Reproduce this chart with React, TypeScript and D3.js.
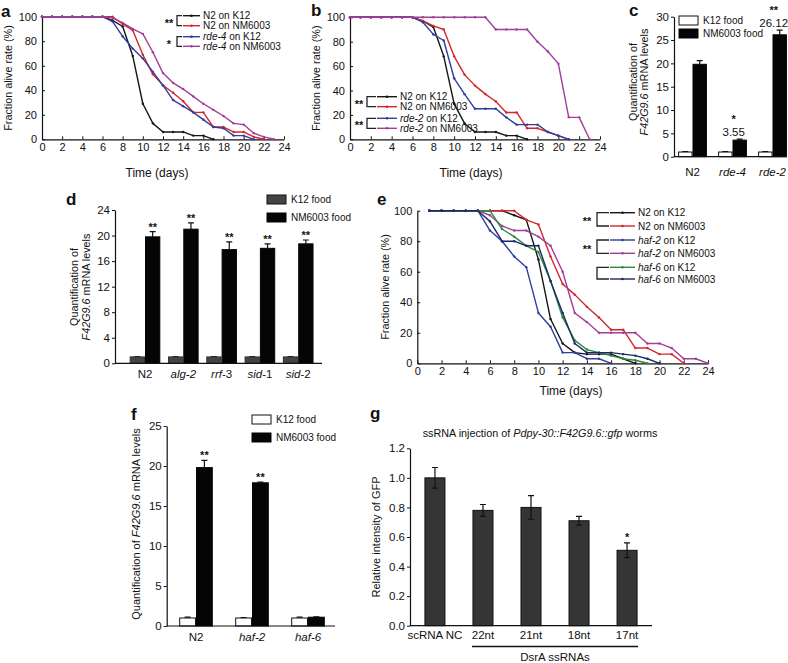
import * as React from 'react';
import { useEffect, useRef } from 'react';
import * as d3 from 'd3';

const FONT = '"Liberation Sans", Arial, Helvetica, sans-serif';

// ---- survival curves: one value per day ----
// panels a and b start at day 0, panel e at day 1
const aN2K12 = [100, 100, 100, 100, 100, 100, 100, 97, 92, 68, 29, 13, 6, 6, 6, 3, 3, 0];
const aN2NM6003 = [100, 100, 100, 100, 100, 100, 100, 100, 94, 89, 69, 53, 44, 38, 31, 22, 22, 10, 10, 6, 6, 2, 0];
const aRde4K12 = [100, 100, 100, 100, 100, 100, 100, 96, 84, 74, 66, 55, 44, 32, 27, 22, 16, 10, 9, 3, 3, 0];
const aRde4NM6003 = [100, 100, 100, 100, 100, 100, 100, 99, 95, 90, 86, 71, 54, 46, 41, 35, 29, 24, 19, 13, 12, 5, 2, 0];

const bN2K12 = [100, 100, 100, 100, 100, 100, 100, 97, 92, 68, 29, 13, 6, 6, 6, 3, 3, 0];
const bN2NM6003 = [100, 100, 100, 100, 100, 100, 100, 97, 93, 90, 68, 53, 44, 37, 31, 22, 22, 9, 9, 6, 3, 0];
const bRde2K12 = [100, 100, 100, 100, 100, 100, 100, 96, 86, 81, 50, 37, 25, 25, 25, 18, 12, 12, 12, 6, 3, 0];
const bRde2NM6003 = [100, 100, 100, 100, 100, 100, 100, 100, 100, 100, 100, 100, 100, 100, 90, 90, 90, 90, 80, 72, 62, 18, 18, 0];

const eN2K12 = [100, 100, 100, 100, 100, 100, 100, 97, 94, 68, 29, 13, 7, 6, 6, 6, 3, 0];
const eN2NM6003 = [100, 100, 100, 100, 100, 100, 100, 100, 94, 91, 70, 52, 45, 37, 30, 22, 22, 10, 10, 6, 6, 0];
const eHaf2K12 = [100, 100, 100, 100, 100, 87, 80, 70, 63, 33, 24, 7, 7, 3, 3, 0];
const eHaf2NM6003 = [100, 100, 100, 100, 100, 97, 90, 87, 87, 83, 77, 60, 33, 27, 20, 20, 20, 20, 13, 13, 10, 3, 3, 0];
const eHaf6K12 = [100, 100, 100, 100, 100, 100, 88, 83, 77, 73, 54, 30, 15, 9, 7, 5, 3, 2, 0];
const eHaf6NM6003 = [100, 100, 100, 100, 100, 93, 80, 80, 77, 77, 54, 33, 13, 7, 7, 7, 6, 5, 3, 0];

const dayTicks = [0, 2, 4, 6, 8, 10, 12, 14, 16, 18, 20, 22, 24];
const pctTicks = [0, 20, 40, 60, 80, 100];

// ---- panel c ----
const cCats = ['N2', 'rde-4', 'rde-2'];
const cItalic = ['', 'rde-4', 'rde-2'];
const cK12 = [1.0, 1.0, 1.0];
const cK12Err = [0.1, 0.1, 0.1];
const cNM = [19.8, 3.55, 26.12];
const cNMErr = [0.8, 0.2, 1.0];
const cStars = ['', '*', '**'];
const cValueLabels = ['', '3.55', '26.12'];
const cTicks = [0, 5, 10, 15, 20, 25, 30];

// ---- panel d ----
const dCats = ['N2', 'alg-2', 'rrf-3', 'sid-1', 'sid-2'];
const dItalic = ['', 'alg-2', 'rrf', 'sid', 'sid'];
const dK12 = [1.0, 1.0, 1.0, 1.0, 1.0];
const dK12Err = [0.05, 0.05, 0.05, 0.05, 0.05];
const dNM = [19.8, 21.0, 17.8, 18.0, 18.7];
const dNMErr = [0.8, 1.0, 1.2, 0.7, 0.6];
const dStars = ['**', '**', '**', '**', '**'];
const dTicks = [0, 4, 8, 12, 16, 20, 24];

// ---- panel f ----
const fCats = ['N2', 'haf-2', 'haf-6'];
const fItalic = ['', 'haf-2', 'haf-6'];
const fK12 = [1.0, 1.0, 1.0];
const fK12Err = [0.1, 0.05, 0.1];
const fNM = [19.8, 17.9, 1.1];
const fNMErr = [0.9, 0.1, 0.05];
const fStars = ['**', '**', ''];
const fTicks = [0, 5, 10, 15, 20, 25];

// ---- panel g ----
const gCats = ['scRNA NC', '22nt', '21nt', '18nt', '17nt'];
const gValues = [1.0, 0.78, 0.8, 0.71, 0.51];
const gErr = [0.07, 0.04, 0.08, 0.03, 0.05];
const gStars = ['', '', '', '', '*'];
const gTicks = [0, 0.2, 0.4, 0.6, 0.8, 1.0, 1.2];

const BLACK = '#161616';
const RED = '#d3262c';
const BLUE = '#2f3e9e';
const MAGENTA = '#a23d98';
const GREEN = '#2b8a3e';
const NAVY = '#1e2868';

type Sel = d3.Selection<SVGGElement, unknown, null, undefined>;

// text with one italic part
function richText(g: Sel, label: string, italic: string, x: number, y: number, anchor: string, size: number) {
  const t = g.append('text')
    .attr('x', x).attr('y', y)
    .attr('text-anchor', anchor)
    .attr('font-size', size)
    .attr('fill', '#111');
  const idx = italic ? label.indexOf(italic) : -1;
  if (idx < 0) {
    t.text(label);
    return t;
  }
  if (idx > 0) t.append('tspan').text(label.slice(0, idx));
  t.append('tspan').attr('font-style', 'italic').text(italic);
  const rest = label.slice(idx + italic.length);
  if (rest) t.append('tspan').text(rest);
  return t;
}

function rotatedText(g: Sel, label: string, italic: string, x: number, y: number, size: number) {
  const r = g.append('g').attr('transform', `translate(${x},${y}) rotate(-90)`);
  richText(r, label, italic, 0, 0, 'middle', size);
}

function stars(g: Sel, s: string, x: number, y: number) {
  g.append('text').attr('x', x).attr('y', y).attr('text-anchor', 'middle')
    .attr('font-size', 11).attr('font-weight', 'bold').attr('fill', '#111').text(s);
}

function styleAxis(a: Sel, size = 11) {
  a.attr('font-family', FONT).attr('font-size', size);
  a.select('.domain').attr('stroke', '#111').attr('stroke-width', 1.2);
  a.selectAll('.tick line').attr('stroke', '#111').attr('stroke-width', 1);
  a.selectAll('.tick text').attr('fill', '#111');
}

interface SurvSeries { values: number[]; start: number; color: string; label: string; italic: string }
interface SurvPanel {
  left: number; right: number; top: number; bottom: number;
  series: SurvSeries[];
  legendYs: number[]; lineX0: number; lineX1: number; bracketX: number; starsX: number;
  brackets: { a: number; b: number; stars: string }[];
  xTitleX: number; xTitleY: number; yTitleX: number;
}

function drawSurvival(root: Sel, p: SurvPanel) {
  const x = d3.scaleLinear().domain([0, 24]).range([p.left, p.right]);
  const y = d3.scaleLinear().domain([0, 100]).range([p.bottom, p.top]);
  const g = root.append('g');

  const xa = g.append('g').attr('transform', `translate(0,${p.bottom})`)
    .call(d3.axisBottom(x).tickValues(dayTicks).tickSizeInner(-3).tickSizeOuter(0).tickPadding(4));
  styleAxis(xa as unknown as Sel);
  const ya = g.append('g').attr('transform', `translate(${p.left},0)`)
    .call(d3.axisLeft(y).tickValues(pctTicks).tickSizeInner(-3).tickSizeOuter(0).tickPadding(5));
  styleAxis(ya as unknown as Sel);

  g.append('text').attr('x', p.xTitleX).attr('y', p.xTitleY)
    .attr('text-anchor', 'middle').attr('font-size', 12).attr('fill', '#111')
    .text('Time (days)');
  rotatedText(g, 'Fraction alive rate (%)', '', p.yTitleX, (p.top + p.bottom) / 2, 10.8);

  p.series.forEach(s => {
    const line = d3.line<number>().x((_, i) => x(s.start + i)).y(d => y(d));
    g.append('path').datum(s.values)
      .attr('fill', 'none').attr('stroke', s.color).attr('stroke-width', 1.4)
      .attr('stroke-linejoin', 'round')
      .attr('d', line);
    g.append('g').selectAll('circle').data(s.values).join('circle')
      .attr('cx', (_, i) => x(s.start + i)).attr('cy', d => y(d))
      .attr('r', 1.2).attr('fill', s.color);
  });

  // legend
  p.series.forEach((s, i) => {
    const ly = p.legendYs[i];
    g.append('line').attr('x1', p.lineX0).attr('x2', p.lineX1).attr('y1', ly).attr('y2', ly)
      .attr('stroke', s.color).attr('stroke-width', 1.4);
    g.append('circle').attr('cx', (p.lineX0 + p.lineX1) / 2).attr('cy', ly).attr('r', 1.3).attr('fill', s.color);
    richText(g, s.label, s.italic, p.lineX1 + 3, ly + 3.6, 'start', 10);
  });
  p.brackets.forEach(b => {
    const y1 = p.legendYs[b.a];
    const y2 = p.legendYs[b.b];
    g.append('path')
      .attr('d', `M${p.lineX0 - 1},${y1}H${p.bracketX}V${y2}H${p.lineX0 - 1}`)
      .attr('fill', 'none').attr('stroke', '#222').attr('stroke-width', 1.3);
    if (b.stars) stars(g, b.stars, p.starsX, (y1 + y2) / 2 + 6);
  });
}

interface BarPanel {
  cats: string[]; italics: string[];
  k12: number[]; k12Err: number[]; nm: number[]; nmErr: number[];
  stars: string[]; valueLabels?: string[]; valueDx?: number;
  ticks: number[]; left: number; axisEnd: number; top: number; bottom: number;
  band0: number; band1: number; padInner: number;
  k12Fill: string; k12Stroke: string; labelY: number;
}

function drawBars(root: Sel, p: BarPanel) {
  const g = root.append('g');
  const yMax = p.ticks[p.ticks.length - 1];
  const y = d3.scaleLinear().domain([0, yMax]).range([p.bottom, p.top]);
  const x = d3.scaleBand<string>().domain(p.cats).range([p.band0, p.band1])
    .paddingInner(p.padInner).paddingOuter(p.padInner / 2);
  const sub = d3.scaleBand<string>().domain(['K12', 'NM6003']).range([0, x.bandwidth()]);

  const ya = g.append('g').attr('transform', `translate(${p.left},0)`)
    .call(d3.axisLeft(y).tickValues(p.ticks).tickSizeInner(3).tickSizeOuter(0).tickPadding(2));
  styleAxis(ya as unknown as Sel, 11.5);

  p.cats.forEach((c, i) => {
    const x0 = x(c) ?? 0;
    const bw = sub.bandwidth();
    const xk = x0 + (sub('K12') ?? 0);
    const xn = x0 + (sub('NM6003') ?? 0);
    // error bars (upward)
    const errs = [
      { cx: xk + bw / 2, v: p.k12[i], e: p.k12Err[i] },
      { cx: xn + bw / 2, v: p.nm[i], e: p.nmErr[i] },
    ];
    errs.forEach(er => {
      g.append('path')
        .attr('d', `M${er.cx},${y(er.v)}V${y(er.v + er.e)}M${er.cx - 3},${y(er.v + er.e)}H${er.cx + 3}`)
        .attr('stroke', '#111').attr('stroke-width', 1.2).attr('fill', 'none');
    });
    g.append('rect').attr('x', xk + 0.5).attr('y', y(p.k12[i])).attr('width', bw - 1)
      .attr('height', y(0) - y(p.k12[i]))
      .attr('fill', p.k12Fill).attr('stroke', p.k12Stroke).attr('stroke-width', 1);
    g.append('rect').attr('x', xn + 0.5).attr('y', y(p.nm[i])).attr('width', bw - 1)
      .attr('height', y(0) - y(p.nm[i]))
      .attr('fill', '#050505').attr('stroke', '#050505').attr('stroke-width', 1);

    const top = y(p.nm[i] + p.nmErr[i]);
    const lx = xn + bw / 2 + (p.valueDx ?? 0);
    let starY = top - 1;
    if (p.valueLabels && p.valueLabels[i]) {
      g.append('text').attr('x', lx).attr('y', top - 3).attr('text-anchor', 'middle')
        .attr('font-size', 11.5).attr('fill', '#111').text(p.valueLabels[i]);
      starY = top - 16;
    }
    if (p.stars[i]) stars(g, p.stars[i], lx, starY);
    richText(g, c, p.italics[i], x0 + x.bandwidth() / 2, p.labelY, 'middle', 11.5);
  });

  g.append('line').attr('x1', p.left).attr('x2', p.axisEnd).attr('y1', p.bottom).attr('y2', p.bottom)
    .attr('stroke', '#111').attr('stroke-width', 1.2);
}

function barLegend(root: Sel, x: number, y: number, k12Fill: string, gap: number) {
  const g = root.append('g');
  g.append('rect').attr('x', x).attr('y', y).attr('width', 19).attr('height', 9)
    .attr('fill', k12Fill).attr('stroke', '#111').attr('stroke-width', 1);
  g.append('rect').attr('x', x).attr('y', y + gap).attr('width', 19).attr('height', 9)
    .attr('fill', '#050505').attr('stroke', '#050505').attr('stroke-width', 1);
  g.append('text').attr('x', x + 24).attr('y', y + 8).attr('font-size', 10).attr('fill', '#111').text('K12 food');
  g.append('text').attr('x', x + 24).attr('y', y + gap + 8).attr('font-size', 10).attr('fill', '#111').text('NM6003 food');
}

function panelLetter(root: Sel, letter: string, x: number, y: number) {
  root.append('text').attr('x', x).attr('y', y).attr('font-size', 17).attr('font-weight', 'bold')
    .attr('fill', '#111').text(letter);
}

const App: React.FC = () => {
  const svgRef = useRef<SVGSVGElement>(null);

  useEffect(() => {
    document.body.style.margin = '0';
    const svg = d3.select(svgRef.current);
    svg.selectAll('*').remove();
    const root = svg.append('g').attr('font-family', FONT) as unknown as Sel;

    // ---------- a ----------
    drawSurvival(root, {
      left: 42, right: 284, top: 16.7, bottom: 139.3,
      series: [
        { values: aN2K12, start: 0, color: BLACK, label: 'N2 on K12', italic: '' },
        { values: aN2NM6003, start: 0, color: RED, label: 'N2 on NM6003', italic: '' },
        { values: aRde4K12, start: 0, color: BLUE, label: 'rde-4 on K12', italic: 'rde-4' },
        { values: aRde4NM6003, start: 0, color: MAGENTA, label: 'rde-4 on NM6003', italic: 'rde-4' },
      ],
      legendYs: [15.7, 25.7, 36.7, 46.3], lineX0: 183, lineX1: 200, bracketX: 177, starsX: 169,
      brackets: [{ a: 0, b: 1, stars: '**' }, { a: 2, b: 3, stars: '*' }],
      xTitleX: 157, xTitleY: 177, yTitleX: 12,
    });
    panelLetter(root, 'a', 1, 17);

    // ---------- b ----------
    drawSurvival(root, {
      left: 350, right: 600, top: 17.3, bottom: 139.3,
      series: [
        { values: bN2K12, start: 0, color: BLACK, label: 'N2 on K12', italic: '' },
        { values: bN2NM6003, start: 0, color: RED, label: 'N2 on NM6003', italic: '' },
        { values: bRde2K12, start: 0, color: BLUE, label: 'rde-2 on K12', italic: 'rde-2' },
        { values: bRde2NM6003, start: 0, color: MAGENTA, label: 'rde-2 on NM6003', italic: 'rde-2' },
      ],
      legendYs: [96.7, 106.7, 118.3, 128.3], lineX0: 377, lineX1: 397, bracketX: 367, starsX: 359,
      brackets: [{ a: 0, b: 1, stars: '**' }, { a: 2, b: 3, stars: '**' }],
      xTitleX: 471, xTitleY: 177, yTitleX: 320,
    });
    panelLetter(root, 'b', 311, 16);

    // ---------- c ----------
    drawBars(root, {
      cats: cCats, italics: cItalic, k12: cK12, k12Err: cK12Err, nm: cNM, nmErr: cNMErr,
      stars: cStars, valueLabels: cValueLabels, valueDx: -6,
      ticks: cTicks, left: 674, axisEnd: 787, top: 16.7, bottom: 156.7,
      band0: 672.5, band1: 792.5, padInner: 0.28,
      k12Fill: '#fff', k12Stroke: '#111', labelY: 176,
    });
    barLegend(root, 679, 16, '#fff', 13);
    rotatedText(root, 'Quantification of', '', 637, 82, 10.8);
    rotatedText(root, 'F42G9.6 mRNA levels', 'F42G9.6', 648, 82, 10.8);
    panelLetter(root, 'c', 629, 16);

    // ---------- d ----------
    drawBars(root, {
      cats: dCats, italics: dItalic, k12: dK12, k12Err: dK12Err, nm: dNM, nmErr: dNMErr,
      stars: dStars,
      ticks: dTicks, left: 115, axisEnd: 322, top: 210, bottom: 363.3,
      band0: 125.85, band1: 317.35, padInner: 0.2,
      k12Fill: '#444', k12Stroke: '#333', labelY: 378,
    });
    barLegend(root, 267, 195, '#444', 18);
    rotatedText(root, 'Quantification of', '', 78, 287, 10.8);
    rotatedText(root, 'F42G9.6 mRNA levels', 'F42G9.6', 90, 287, 10.8);
    panelLetter(root, 'd', 66, 205);

    // ---------- e ----------
    drawSurvival(root, {
      left: 417.3, right: 708, top: 210.7, bottom: 363.3,
      series: [
        { values: eN2K12, start: 1, color: BLACK, label: 'N2 on K12', italic: '' },
        { values: eN2NM6003, start: 1, color: RED, label: 'N2 on NM6003', italic: '' },
        { values: eHaf2K12, start: 1, color: BLUE, label: 'haf-2 on K12', italic: 'haf-2' },
        { values: eHaf2NM6003, start: 1, color: MAGENTA, label: 'haf-2 on NM6003', italic: 'haf-2' },
        { values: eHaf6K12, start: 1, color: GREEN, label: 'haf-6 on K12', italic: 'haf-6' },
        { values: eHaf6NM6003, start: 1, color: NAVY, label: 'haf-6 on NM6003', italic: 'haf-6' },
      ],
      legendYs: [212.7, 226, 240, 253.3, 267.3, 279], lineX0: 610, lineX1: 635, bracketX: 597, starsX: 587,
      brackets: [{ a: 0, b: 1, stars: '**' }, { a: 2, b: 3, stars: '**' }, { a: 4, b: 5, stars: '' }],
      xTitleX: 571, xTitleY: 395, yTitleX: 389,
    });
    panelLetter(root, 'e', 377, 205);

    // ---------- f ----------
    drawBars(root, {
      cats: fCats, italics: fItalic, k12: fK12, k12Err: fK12Err, nm: fNM, nmErr: fNMErr,
      stars: fStars,
      ticks: fTicks, left: 166.7, axisEnd: 335, top: 426, bottom: 626,
      band0: 168, band1: 336, padInner: 0.4,
      k12Fill: '#fff', k12Stroke: '#111', labelY: 641,
    });
    barLegend(root, 252, 415, '#fff', 18);
    rotatedText(root, 'Quantification of F42G9.6 mRNA levels', 'F42G9.6', 140, 524, 11);
    panelLetter(root, 'f', 131, 420);

    // ---------- g ----------
    {
      const g = root.append('g');
      const y = d3.scaleLinear().domain([0, 1.2]).range([625.7, 448.3]);
      const x = d3.scaleBand<string>().domain(gCats).range([411, 651]).paddingInner(0.583).paddingOuter(0.29);
      const ya = g.append('g').attr('transform', 'translate(410,0)')
        .call(d3.axisLeft(y).tickValues(gTicks).tickFormat(d3.format('.1f')).tickSizeInner(3).tickSizeOuter(0).tickPadding(2));
      styleAxis(ya as unknown as Sel, 11.5);
      gCats.forEach((c, i) => {
        const x0 = x(c) ?? 0;
        const cx = x0 + x.bandwidth() / 2;
        g.append('rect').attr('x', x0).attr('y', y(gValues[i])).attr('width', x.bandwidth())
          .attr('height', y(0) - y(gValues[i]))
          .attr('fill', '#353535').attr('stroke', '#111').attr('stroke-width', 1);
        const hi = y(gValues[i] + gErr[i]);
        const lo = y(gValues[i] - gErr[i]);
        g.append('path')
          .attr('d', `M${cx},${lo}V${hi}M${cx - 3},${hi}H${cx + 3}M${cx - 3},${lo}H${cx + 3}`)
          .attr('stroke', '#111').attr('stroke-width', 1.2).attr('fill', 'none');
        if (gStars[i]) stars(g, gStars[i], cx, hi - 1.5);
        g.append('text').attr('x', cx).attr('y', 639).attr('text-anchor', 'middle')
          .attr('font-size', 11.5).attr('fill', '#111').text(c);
      });
      g.append('line').attr('x1', 410).attr('x2', 652).attr('y1', 625.7).attr('y2', 625.7)
        .attr('stroke', '#111').attr('stroke-width', 1.2);
      const x1 = (x(gCats[1]) ?? 0) - 1;
      const x2 = (x(gCats[4]) ?? 0) + x.bandwidth() + 1;
      g.append('line').attr('x1', x1).attr('x2', x2).attr('y1', 646.5).attr('y2', 646.5)
        .attr('stroke', '#111').attr('stroke-width', 1.6);
      g.append('text').attr('x', (x1 + x2) / 2).attr('y', 661).attr('text-anchor', 'middle')
        .attr('font-size', 11.5).attr('fill', '#111').text('DsrA ssRNAs');
      richText(g, 'ssRNA injection of Pdpy-30::F42G9.6::gfp worms', 'Pdpy-30::F42G9.6::gfp', 540, 436.5, 'middle', 10.8);
      rotatedText(g, 'Relative intensity of GFP', '', 380, 537, 11);
    }
    panelLetter(root, 'g', 370, 419);
  }, []);

  return <svg ref={svgRef} width={788} height={663} style={{ display: 'block', background: '#fff' }} />;
};

export default App;
